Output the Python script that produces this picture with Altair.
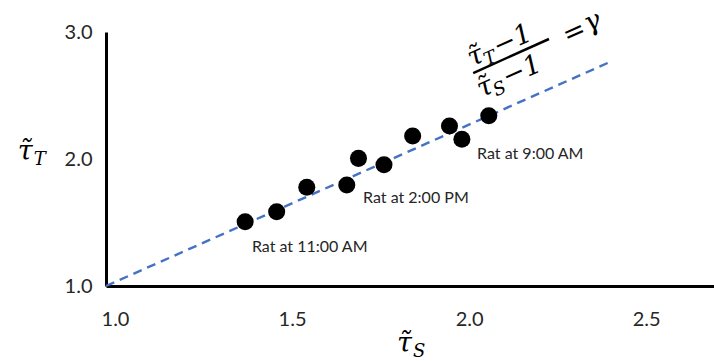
import altair as alt
import pandas as pd

# measured time constants (S = one condition, T = the other)
tau_s = [1.393, 1.482, 1.567, 1.680, 1.713, 1.785, 1.866, 1.970, 2.005, 2.081]
tau_t = [1.506, 1.585, 1.777, 1.795, 2.005, 1.955, 2.181, 2.260, 2.155, 2.341]

# dashed reference line through (1, 1)
fit_x = [1.0, 2.42]
fit_y = [1.0, 2.76]

# point annotations
note_text = ["Rat at 11:00 AM", "Rat at 2:00 PM", "Rat at 9:00 AM"]
note_x = [1.412, 1.726, 2.048]
note_y = [1.307, 1.693, 2.039]

x_ticks = [1.0, 1.5, 2.0, 2.5]
y_ticks = [1.0, 2.0, 3.0]

# anchor for the rotated ratio formula, and the ends of its fraction bar
eq_x = [2.144]
eq_y = [2.811]
bar_x = [2.037, 2.251]
bar_y = [2.677, 2.945]

# anchors for the two axis titles
xt_x, xt_y = [1.822], [0.48]
yt_x, yt_y = [0.751], [1.992]

SANS = "Lato"
SERIF = "DejaVu Serif"
INK = "#262626"
ANGLE = 336

xs = alt.Scale(domain=[1.0, 2.717], nice=False, zero=False)
ys = alt.Scale(domain=[1.0, 3.0], nice=False, zero=False)

x_axis = alt.Axis(values=x_ticks, format=".1f", title=None, grid=False, ticks=False,
                  domainColor="black", domainWidth=3, labelFont=SANS, labelFontSize=20,
                  labelColor=INK, labelPadding=23, labelOffset=9, labelFlush=False)
y_axis = alt.Axis(values=y_ticks, format=".1f", title=None, grid=False, ticks=False,
                  domainColor="black", domainWidth=3, labelFont=SANS, labelFontSize=20,
                  labelColor=INK, labelPadding=14)

points = pd.DataFrame({"x": tau_s, "y": tau_t})
fit = pd.DataFrame({"x": fit_x, "y": fit_y})
notes = pd.DataFrame({"x": note_x, "y": note_y, "t": note_text})
eq = pd.DataFrame({"x": eq_x, "y": eq_y})
bar = pd.DataFrame({"x": bar_x, "y": bar_y})
xt = pd.DataFrame({"x": xt_x, "y": xt_y})
yt = pd.DataFrame({"x": yt_x, "y": yt_y})


def xy(df):
    return alt.Chart(df).encode(
        x=alt.X("x:Q", scale=xs, axis=x_axis),
        y=alt.Y("y:Q", scale=ys, axis=y_axis),
    )


line = xy(fit).mark_line(color="#4472C4", strokeWidth=2.4, strokeDash=[9, 6])

dots = xy(points).mark_point(filled=True, shape="circle", size=290, color="black", opacity=1)

labels = xy(notes).mark_text(align="left", baseline="middle", font=SANS, fontSize=16,
                             color=INK).encode(text="t:N")


def piece(df, txt, dx, dy, size, angle=ANGLE):
    return xy(df).mark_text(dx=dx, dy=dy, fontSize=size, font=SERIF, fontStyle="italic",
                            align="left", baseline="alphabetic", color="black").encode(
        text=alt.value(txt), angle=alt.value(angle))


formula = [
    piece(eq, "τ\u0303", -40, -6, 27),
    piece(eq, "T", -26, -1, 18),
    piece(eq, "−1", -12, -6, 27),
    piece(eq, "τ\u0303", -44, 26, 27),
    piece(eq, "S", -30, 31, 18),
    piece(eq, "−1", -16, 26, 27),
    piece(eq, "=", 56, 12, 27),
    piece(eq, "γ", 80, 10, 27),
]

frac_bar = xy(bar).mark_line(color="black", strokeWidth=2.5)

titles = [
    piece(xt, "τ\u0303", 0, 0, 27, angle=0),
    piece(xt, "S", 16, 5, 18, angle=0),
    piece(yt, "τ\u0303", 0, 0, 27, angle=0),
    piece(yt, "T", 16, 5, 18, angle=0),
]

chart = alt.layer(line, dots, labels, frac_bar, *formula, *titles).properties(
    width=608,
    height=254,
    autosize=alt.AutoSizeParams(type="none"),
    padding={"left": 106, "top": 32, "right": 0, "bottom": 75},
    background="white",
).configure_view(stroke=None)

chart.save("out.html", embed_options={"renderer": "svg", "actions": False})
